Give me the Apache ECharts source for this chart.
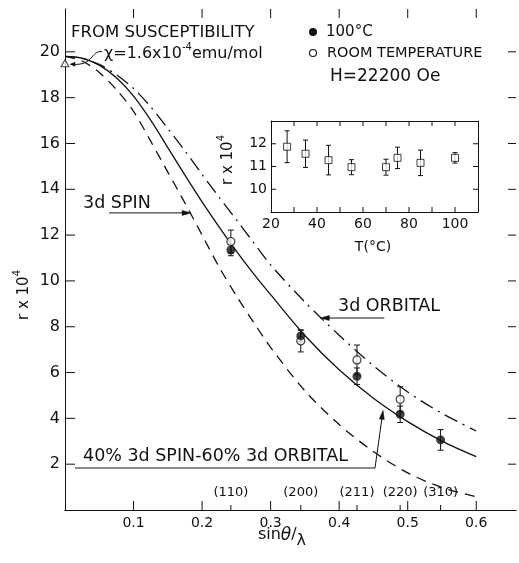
<!DOCTYPE html>
<html><head><meta charset="utf-8">
<script src="https://cdn.jsdelivr.net/npm/echarts@6/dist/echarts.min.js"></script>
<style>html,body{margin:0;padding:0;background:#fff}#c{width:519px;height:563px}</style>
</head><body><div id="c"></div>
<script>
// ---- data ----
const curveX   = [0,0.025,0.05,0.075,0.1,0.125,0.15,0.175,0.2,0.225,0.25,0.275,0.3,0.35,0.4,0.45,0.5,0.55,0.6];
const spinR    = [19.8,19.6,19.1,18.35,17.4,16.1,14.75,13.4,12.0,10.6,9.35,8.2,7.1,5.2,3.73,2.55,1.62,0.98,0.58];
const mixR     = [19.8,19.72,19.42,18.87,18.07,17.02,15.82,14.62,13.45,12.35,11.3,10.32,9.4,7.62,6.12,4.88,3.86,3.01,2.33];
const orbitalR = [19.8,19.72,19.45,19.0,18.4,17.6,16.65,15.68,14.65,13.65,12.67,11.68,10.7,9.08,7.63,6.3,5.15,4.22,3.45];
const hklLabels = ['(110)','(200)','(211)','(220)','(310)'];
const hklX      = [0.242,0.344,0.426,0.489,0.548];
const hot100R   = [11.35,7.6,5.84,4.18,3.06];
const hot100Err = [0.25,0.25,0.36,0.36,0.45];
const roomR     = [11.72,7.38,6.55,4.83];
const roomErr   = [0.5,0.48,0.65,0.55];
const suscX = [0], suscR = [19.5];
const insetT   = [27,35,45,55,70,75,85,100];
const insetR   = [11.87,11.56,11.28,10.97,10.97,11.38,11.16,11.38];
const insetErr = [0.7,0.6,0.65,0.33,0.35,0.47,0.56,0.23];
const xTickLabels = ['0.1','0.2','0.3','0.4','0.5','0.6'];
const yTickLabels = ['2','4','6','8','10','12','14','16','18','20'];
const insetXLabels = ['20','40','60','80','100'];
const insetYLabels = ['10','11','12'];
const xTickVals = [0.1,0.2,0.3,0.4,0.5,0.6];
const yTickVals = [2,4,6,8,10,12,14,16,18,20];
const insetXTickVals = [30,40,50,60,70,80,90,100];
const insetYTickVals = [10,11,12];

const INK = '#111';
const FF = 'DejaVu Sans';
const X_MAX = 0.658, Y_MAX = 21.87;
const chart = echarts.init(document.getElementById('c'), null, {renderer:'canvas'});

function errBar(cap){
  return function(params, api){
    const x = api.value(0), y = api.value(1), e = api.value(2);
    const a = api.coord([x, y+e]), b = api.coord([x, y-e]);
    const st = {stroke: INK, lineWidth: 1};
    return {type:'group', children:[
      {type:'line', shape:{x1:a[0],y1:a[1],x2:b[0],y2:b[1]}, style:st},
      {type:'line', shape:{x1:a[0]-cap,y1:a[1],x2:a[0]+cap,y2:a[1]}, style:st},
      {type:'line', shape:{x1:b[0]-cap,y1:b[1],x2:b[0]+cap,y2:b[1]}, style:st}
    ]};
  };
}
const zip = (xs, ys) => xs.map((x,i)=>[x, ys[i]]);
const zip3 = (xs, ys, es) => xs.map((x,i)=>[x, ys[i], es[i]]);

const axisLine = {show:true, lineStyle:{color:INK, width:1}};
const noTick = {show:false};
const option = {
  backgroundColor:'#fff',
  animation:false,
  grid:[
    {left:65, top:9, width:454, height:501},
    {left:271, top:121, width:207, height:91}
  ],
  xAxis:[
    {gridIndex:0, type:'value', min:0, max:X_MAX, interval:0.1, position:'bottom',
     axisLine, axisTick:noTick, splitLine:{show:false},
     axisLabel:{margin:6, fontSize:14, fontFamily:FF, color:INK,
       formatter:v=>{const s=v.toFixed(1); return xTickLabels.includes(s)&&Math.abs(v-+s)<1e-6?s:'';}}},
    {gridIndex:0, type:'value', min:0, max:X_MAX, interval:0.1, position:'top',
     axisLine, axisTick:noTick, splitLine:{show:false}, axisLabel:{show:false}},
    {gridIndex:1, type:'value', min:20, max:110, interval:10, position:'bottom',
     axisLine, axisTick:noTick, splitLine:{show:false},
     axisLabel:{margin:5, fontSize:14, fontFamily:FF, color:INK, formatter:v=>insetXLabels.includes(String(v))?String(v):''}},
    {gridIndex:1, type:'value', min:20, max:110, interval:10, position:'top',
     axisLine, axisTick:noTick, splitLine:{show:false}, axisLabel:{show:false}}
  ],
  yAxis:[
    {gridIndex:0, type:'value', min:0, max:Y_MAX, interval:2, position:'left',
     axisLine, axisTick:noTick, splitLine:{show:false},
     axisLabel:{margin:5, fontSize:16, fontFamily:FF, color:INK, formatter:v=>yTickLabels.includes(String(v))?String(v):''}},
    {gridIndex:0, type:'value', min:0, max:Y_MAX, interval:2, position:'right',
     axisLine:{show:false}, axisTick:noTick, splitLine:{show:false}, axisLabel:{show:false}},
    {gridIndex:1, type:'value', min:9, max:13, interval:1, position:'left',
     axisLine, axisTick:noTick, splitLine:{show:false},
     axisLabel:{margin:4, fontSize:14, fontFamily:FF, color:INK, formatter:v=>insetYLabels.includes(String(v))?String(v):''}},
    {gridIndex:1, type:'value', min:9, max:13, interval:1, position:'right',
     axisLine, axisTick:noTick, splitLine:{show:false}, axisLabel:{show:false}}
  ],
  series:[
    {type:'line', name:'3d SPIN', xAxisIndex:0, yAxisIndex:0, data:zip(curveX, spinR), showSymbol:false, smooth:0.3,
     lineStyle:{color:INK, width:1.3, type:[10,7]}, z:2},
    {type:'line', name:'40% 3d SPIN-60% 3d ORBITAL', xAxisIndex:0, yAxisIndex:0, data:zip(curveX, mixR), showSymbol:false, smooth:0.3,
     lineStyle:{color:INK, width:1.3}, z:2},
    {type:'line', name:'3d ORBITAL', xAxisIndex:0, yAxisIndex:0, data:zip(curveX, orbitalR), showSymbol:false, smooth:0.3,
     lineStyle:{color:INK, width:1.3, type:[14,6,2,6]}, z:2},
    {type:'custom', xAxisIndex:0, yAxisIndex:0, data:zip3(hklX, hot100R, hot100Err), renderItem:errBar(3), clip:false, z:3},
    {type:'custom', xAxisIndex:0, yAxisIndex:0, data:zip3(hklX.slice(0,4), roomR, roomErr), renderItem:errBar(3), clip:false, z:3},
    {type:'scatter', name:'ROOM TEMPERATURE', xAxisIndex:0, yAxisIndex:0, data:zip(hklX.slice(0,4), roomR), symbol:'circle', symbolSize:8,
     itemStyle:{color:'#fff', borderColor:INK, borderWidth:1.2}, z:4},
    {type:'scatter', name:'100°C', xAxisIndex:0, yAxisIndex:0, data:zip(hklX, hot100R), symbol:'circle', symbolSize:9,
     itemStyle:{color:INK}, z:5},
    {type:'scatter', name:'susceptibility', xAxisIndex:0, yAxisIndex:0, data:zip(suscX, suscR), symbol:'triangle', symbolSize:[8,7],
     itemStyle:{color:'#fff', borderColor:INK, borderWidth:1}, clip:false, z:5},
    {type:'custom', xAxisIndex:0, yAxisIndex:0, data:hklX.map(x=>[x,0]), clip:false, z:3,
     renderItem:(params, api)=>{
       const p = api.coord([api.value(0), 0]);
       return {type:'group', children:[
         {type:'line', shape:{x1:p[0],y1:p[1],x2:p[0],y2:p[1]-5}, style:{stroke:INK, lineWidth:1}},
         {type:'text', x:p[0], y:p[1]-17, style:{text:hklLabels[params.dataIndex], fontSize:13, fontFamily:FF, fill:INK,
           align:'center', verticalAlign:'middle', textAlign:'center', textVerticalAlign:'middle'}}
       ]};
     }},
    {type:'custom', xAxisIndex:2, yAxisIndex:2, data:zip3(insetT, insetR, insetErr), renderItem:errBar(2.5), clip:false, z:3},
    {type:'scatter', xAxisIndex:2, yAxisIndex:2, data:zip(insetT, insetR), symbol:'rect', symbolSize:7,
     itemStyle:{color:'#fff', borderColor:INK, borderWidth:1}, z:4}
  ]
};
chart.setOption(option);

// ---- annotations & inward ticks ----
const px = (x,y,g=0)=>chart.convertToPixel({gridIndex:g}, [x,y]);
function txt(x, y, text, size, align, extra){
  return {type:'text', x, y, style:Object.assign({text, fontSize:size, fontFamily:FF, fill:INK,
    align:align||'left', verticalAlign:'middle', textAlign:align||'left', textVerticalAlign:'middle'}, extra||{})};
}
const lst = {stroke:INK, lineWidth:1, fill:null};
const seg = (x1,y1,x2,y2)=>({type:'line', shape:{x1,y1,x2,y2}, style:{stroke:INK, lineWidth:1}, z:10});
function arrowHead(tip, dx, dy, len, half){
  const bx = tip[0]-dx*len, by = tip[1]-dy*len;
  const nx = -dy, ny = dx;
  return {type:'polygon', shape:{points:[[tip[0],tip[1]],[bx+nx*half,by+ny*half],[bx-nx*half,by-ny*half]]}, style:{fill:INK, stroke:INK, lineWidth:0.5}};
}
const ticks = [];
const mBot = px(0,0)[1], mTop = px(0,Y_MAX)[1], mLeft = px(0,0)[0], mRight = px(X_MAX,0)[0];
xTickVals.forEach(v=>{ const x = px(v,0)[0]; ticks.push(seg(x,mBot,x,mBot-9), seg(x,mTop,x,mTop+9)); });
yTickVals.forEach(v=>{ const y = px(0,v)[1]; ticks.push(seg(mLeft,y,mLeft+10,y), seg(mRight,y,mRight-8,y)); });
const iBot = px(20,9,1)[1], iTop = px(20,13,1)[1], iLeft = px(20,9,1)[0], iRight = px(110,9,1)[0];
insetXTickVals.forEach(v=>{ const x = px(v,9,1)[0]; ticks.push(seg(x,iBot,x,iBot-5), seg(x,iTop,x,iTop+5)); });
insetYTickVals.forEach(v=>{ const y = px(20,v,1)[1]; ticks.push(seg(iLeft,y,iLeft+5,y), seg(iRight,y,iRight-5,y)); });

const spinTip = px(0.184, 12.97);
const orbTip = px(0.3725, 8.38);
const mixTip = px(0.464, 4.35);
const tri = px(0, 19.5);
const dxm = mixTip[0]-375, dym = mixTip[1]-468, lm = Math.hypot(dxm,dym);
const supRich = (n)=>({n:{fontSize:n, fontFamily:FF, fill:INK, lineHeight:20, verticalAlign:'bottom'}, s:{fontSize:10, fontFamily:FF, fill:INK, lineHeight:20, verticalAlign:'top'}});

const graphics = ticks.concat([
  txt(71, 33, 'FROM SUSCEPTIBILITY', 16.5),
  {type:'text', x:104, y:52, style:{text:'{n|χ=1.6x10}{s|-4}{n|emu/mol}', fontFamily:FF, fill:INK, align:'left', verticalAlign:'middle', textAlign:'left', textVerticalAlign:'middle', rich:supRich(16)}},
  {type:'bezierCurve', shape:{x1:102, y1:51.5, cpx1:90, cpy1:51, cpx2:94, cpy2:66, x2:tri[0]+7, y2:tri[1]+1}, style:lst},
  arrowHead([tri[0]+5, tri[1]+1], -1, 0, 5, 2),
  {type:'circle', shape:{cx:313, cy:32, r:4}, style:{fill:INK}},
  txt(326, 32, '100°C', 15),
  {type:'circle', shape:{cx:313, cy:53, r:3.5}, style:{fill:'#fff', stroke:INK, lineWidth:1.1}},
  txt(327, 53, 'ROOM TEMPERATURE', 14.5),
  txt(330, 77, 'H=22200 Oe', 17),
  txt(83, 203, '3d SPIN', 17.5),
  {type:'line', shape:{x1:spinTip[0]-82, y1:spinTip[1], x2:spinTip[0]-4, y2:spinTip[1]}, style:lst},
  arrowHead(spinTip, 1, 0, 9, 2.5),
  txt(338, 306, '3d ORBITAL', 17.5),
  {type:'line', shape:{x1:orbTip[0]+64, y1:orbTip[1], x2:orbTip[0]+4, y2:orbTip[1]}, style:lst},
  arrowHead(orbTip, -1, 0, 9, 2.5),
  txt(83, 456, '40% 3d SPIN-60% 3d ORBITAL', 17.5),
  {type:'polyline', shape:{points:[[75,468],[375,468],[mixTip[0]-dxm/lm*4, mixTip[1]-dym/lm*4]]}, style:lst},
  arrowHead(mixTip, dxm/lm, dym/lm, 9, 2.5),
  {type:'text', x:282, y:538, style:{text:'{n|sin}{t|θ}{n|/}{l|λ}', fontFamily:FF, fill:INK, align:'center', verticalAlign:'middle', textAlign:'center', textVerticalAlign:'middle',
    rich:{n:{fontSize:16, fontFamily:FF, fill:INK, lineHeight:22, verticalAlign:'top'}, t:{fontSize:17, fontStyle:'italic', fontFamily:FF, fill:INK, lineHeight:22, verticalAlign:'top'}, l:{fontSize:16, fontFamily:FF, fill:INK, lineHeight:22, verticalAlign:'bottom'}}}},
  {type:'text', x:22, y:295, rotation:Math.PI/2, style:{text:'{n|r x 10}{s|4}', fontFamily:FF, fill:INK, align:'center', verticalAlign:'middle', textAlign:'center', textVerticalAlign:'middle', rich:supRich(15)}},
  {type:'text', x:226, y:160, rotation:Math.PI/2, style:{text:'{n|r x 10}{s|4}', fontFamily:FF, fill:INK, align:'center', verticalAlign:'middle', textAlign:'center', textVerticalAlign:'middle', rich:supRich(15)}},
  txt(373, 247, 'T(°C)', 14, 'center')
]);
chart.setOption({graphic: graphics});
</script></body></html>
